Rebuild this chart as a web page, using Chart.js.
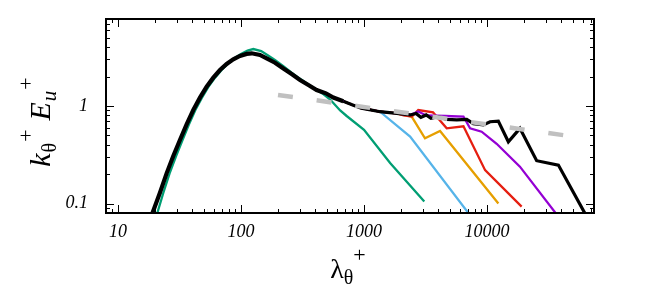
<!DOCTYPE html>
<html><head><meta charset="utf-8">
<script src="https://cdn.jsdelivr.net/npm/chart.js@4/dist/chart.umd.min.js"></script>
<style>html,body{margin:0;padding:0;background:#fff}canvas{display:block}</style>
</head><body>
<canvas id="c" width="654" height="299"></canvas>
<script>
// axis ticks
const xTicks = [10, 100, 1000, 10000];
const xTickLabels = ['10', '100', '1000', '10000'];
const yTicks = [0.1, 1];
const yTickLabels = ['0.1', '1'];

// shared inner-scale part (all but green)
const commonLam = [18.4, 19.13, 21.95, 24.87, 28.18, 31.92, 36.17, 40.98, 46.42, 52.6, 59.6, 67.5, 76.5, 86.6, 98.1, 111.2, 122.1, 142.7, 161.7, 189, 221, 258, 302, 353, 412, 490, 563, 679, 800, 950, 1350];
const commonE   = [0.07, 0.0805, 0.129, 0.204, 0.307, 0.448, 0.648, 0.910, 1.218, 1.578, 1.953, 2.34, 2.70, 3.01, 3.26, 3.42, 3.47, 3.34, 3.08, 2.78, 2.43, 2.13, 1.85, 1.64, 1.46, 1.35, 1.22, 1.12, 1.03, 0.95, 0.874];

// green (smallest domain)
const greenLam = [19.6, 20.9, 23.4, 26.3, 29.7, 33.5, 37.8, 42.6, 48.2, 54.5, 61.6, 69.6, 78.5, 88.4, 100, 113, 126, 146, 165, 190, 221, 258, 302, 353, 412, 470, 540, 640, 723, 1000, 1630, 3090];
const greenE   = [0.07, 0.08, 0.129, 0.204, 0.307, 0.448, 0.648, 0.91, 1.218, 1.578, 1.953, 2.34, 2.72, 3.10, 3.42, 3.70, 3.84, 3.66, 3.32, 2.95, 2.56, 2.20, 1.90, 1.66, 1.46, 1.32, 1.14, 0.90, 0.79, 0.57, 0.26, 0.105];

// tails after the shared part
const blueLam = [2370, 7300];
const blueE   = [0.485, 0.0755];
const orangeLam = [1845, 2440, 3130, 4150, 12360];
const orangeE   = [0.84, 0.78, 0.466, 0.554, 0.10];
const redLam = [1845, 2100, 2450, 2760, 3640, 4700, 6430, 9640, 19100];
const redE   = [0.84, 0.80, 0.78, 0.91, 0.86, 0.59, 0.62, 0.22, 0.093];
const purpleLam = [1845, 2370, 2760, 3200, 4570, 6430, 7280, 9040, 11970, 18500, 37500];
const purpleE   = [0.84, 0.81, 0.88, 0.80, 0.79, 0.78, 0.59, 0.545, 0.41, 0.239, 0.075];
const blackLam = [1845, 2370, 2650, 2900, 3200, 3500, 4000, 4700, 5670, 6840, 7740, 9330, 10580, 12350, 14900, 18500, 25300, 38000, 64000];
const blackE   = [0.84, 0.81, 0.84, 0.765, 0.81, 0.748, 0.777, 0.73, 0.72, 0.73, 0.66, 0.64, 0.69, 0.70, 0.43, 0.59, 0.275, 0.248, 0.075];

// dashed power-law reference
const fitLam = [200, 43000];
const fitE   = [1.30, 0.50];

const pts = (xs, ys) => xs.map((x, i) => ({x, y: ys[i]}));
const withCommon = (xs, ys) => pts(commonLam.concat(xs), commonE.concat(ys));

const ds = (data, color, w, order, extra) => Object.assign({
  data, borderColor: color, borderWidth: w, pointRadius: 0, fill: false,
  tension: 0, order, clip: 0
}, extra || {});

const datasets = [
  ds(pts(fitLam, fitE), '#c0c0c0', 4.5, 0, {borderDash: [15, 24]}),
  ds(withCommon(blackLam, blackE), '#000000', 3.2, 1,
     {segment: {borderWidth: c => (c.p0.parsed.x < 600 ? 4.2 : 3.2)}}),
  ds(withCommon(purpleLam, purpleE), '#9400d3', 2.3, 2),
  ds(withCommon(redLam, redE), '#e51e10', 2.3, 3),
  ds(withCommon(orangeLam, orangeE), '#e69f00', 2.3, 4),
  ds(withCommon(blueLam, blueE), '#56b4e9', 2.3, 5),
  ds(pts(greenLam, greenE), '#009e73', 2.3, 6),
];

function drawRich(ctx, runs, cx, cy, rot) {
  ctx.save();
  ctx.translate(cx, cy);
  ctx.rotate(rot);
  ctx.fillStyle = '#000';
  ctx.textBaseline = 'alphabetic';
  ctx.textAlign = 'left';
  let total = 0;
  runs.forEach(r => { ctx.font = r.font; r.w = ctx.measureText(r.t).width; total += r.w + (r.gap || 0); });
  let x = -total / 2;
  runs.forEach(r => { ctx.font = r.font; x += (r.gap || 0); ctx.fillText(r.t, x, r.dy || 0); x += r.w; });
  ctx.restore();
}

const framePlugin = {
  id: 'frame',
  afterDraw(chart) {
    const {ctx, chartArea: a, scales: {x, y}} = chart;
    ctx.save();
    ctx.strokeStyle = '#000';
    ctx.lineWidth = 1;
    const decTicks = (s) => {
      const out = [];
      const e0 = Math.floor(Math.log10(s.min)), e1 = Math.ceil(Math.log10(s.max));
      for (let e = e0; e <= e1; e++) for (let m = 1; m <= 9; m++) {
        const v = m * Math.pow(10, e);
        if (v >= s.min * 0.9999 && v <= s.max * 1.0001) out.push({v, major: m === 1});
      }
      return out;
    };
    ctx.beginPath();
    decTicks(x).forEach(t => {
      const px = Math.round(x.getPixelForValue(t.v)) + 0.5;
      const L = t.major ? 8 : 4;
      ctx.moveTo(px, a.bottom); ctx.lineTo(px, a.bottom - L);
      ctx.moveTo(px, a.top); ctx.lineTo(px, a.top + L);
    });
    decTicks(y).forEach(t => {
      const py = Math.round(y.getPixelForValue(t.v)) + 0.5;
      const L = t.major ? 8 : 4;
      ctx.moveTo(a.left, py); ctx.lineTo(a.left + L, py);
      ctx.moveTo(a.right, py); ctx.lineTo(a.right - L, py);
    });
    ctx.stroke();
    ctx.lineWidth = 2;
    ctx.strokeRect(a.left, a.top, a.right - a.left, a.bottom - a.top);
    ctx.restore();

    const serif = '"Liberation Serif", "DejaVu Serif", serif';
    // x title
    drawRich(ctx, [
      {t: 'λ', font: `28px ${serif}`},
      {t: 'θ', font: `20px ${serif}`, dy: 6},
      {t: '+', font: `22px ${serif}`, dy: -16},
    ], (a.left + a.right) / 2 - 2, 278, 0);
    // y title
    drawRich(ctx, [
      {t: 'k', font: `italic 30px ${serif}`},
      {t: 'θ', font: `20px ${serif}`, dy: 6, gap: 1},
      {t: '+', font: `22px ${serif}`, dy: -17, gap: 1},
      {t: 'E', font: `italic 30px ${serif}`, gap: 9},
      {t: 'u', font: `italic 21px ${serif}`, dy: 6, gap: 1},
      {t: '+', font: `22px ${serif}`, dy: -17, gap: 1},
    ], 50, 122, -Math.PI / 2);
  }
};

const tickFont = {family: '"Liberation Serif", serif', style: 'italic', size: 18};

new Chart(document.getElementById('c'), {
  type: 'line',
  data: {datasets},
  options: {
    responsive: false,
    animation: false,
    devicePixelRatio: 1,
    layout: {padding: {top: 19, right: 60, left: 0, bottom: 0}},
    plugins: {legend: {display: false}, tooltip: {enabled: false}},
    scales: {
      x: {
        type: 'logarithmic', min: 8, max: 74000,
        grid: {display: false}, border: {display: false},
        ticks: {autoSkip: false, maxRotation: 0, padding: 0, color: '#000', font: tickFont,
          callback: (v, i) => xTickLabels[i]},
        afterBuildTicks: s => { s.ticks = xTicks.map(v => ({value: v})); },
        afterFit: s => { s.height = 86; s.paddingLeft = 0; s.paddingRight = 0; }
      },
      y: {
        type: 'logarithmic', min: 0.08, max: 7.8,
        grid: {display: false}, border: {display: false},
        ticks: {autoSkip: false, padding: 10, color: '#000', font: tickFont,
          callback: (v, i) => yTickLabels[i]},
        afterBuildTicks: s => { s.ticks = yTicks.map(v => ({value: v})); },
        afterFit: s => { s.width = 106; s.paddingTop = 0; s.paddingBottom = 0; }
      }
    }
  },
  plugins: [framePlugin]
});
</script>
</body></html>
